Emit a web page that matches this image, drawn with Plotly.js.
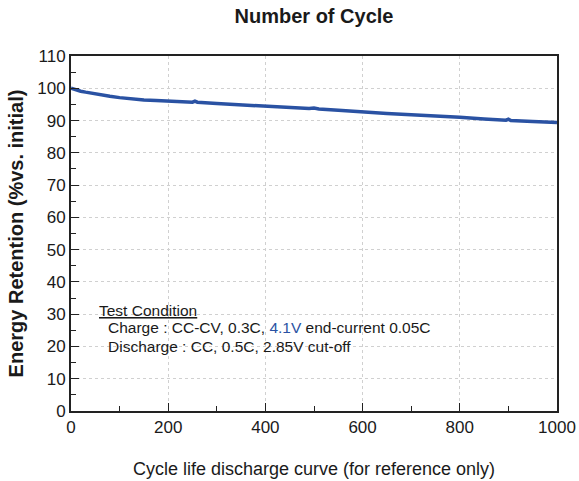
<!DOCTYPE html>
<html><head><meta charset="utf-8">
<script src="https://cdn.plot.ly/plotly-3.0.1.min.js"></script>
<style>html,body{margin:0;padding:0;background:#fff}#chart{width:579px;height:481px}</style>
</head><body><div id="chart"></div>
<script>
const cycles = [0,10,20,30,40,50,60,80,100,125,150,175,200,225,250,255,260,300,350,400,450,490,500,510,550,600,650,700,750,800,850,895,900,905,950,1000];
const retention = [100,99.5,99.1,98.8,98.5,98.2,97.9,97.5,97.1,96.7,96.4,96.2,96.0,95.8,95.7,96.0,95.7,95.3,94.9,94.5,94.1,93.7,93.9,93.6,93.2,92.6,92.2,91.8,91.5,91.0,90.5,90.1,90.4,90.0,89.7,89.4];
const xTicks = [0,200,400,600,800,1000];
const yTicks = [0,10,20,30,40,50,60,70,80,90,100,110];

const font = "Liberation Sans, Arial, sans-serif";
const trace = {x: cycles, y: retention, type: 'scatter', mode: 'lines',
  line: {color: '#2a52a3', width: 3.5}, hoverinfo: 'skip'};

const layout = {
  width: 579, height: 481,
  margin: {l: 71, r: 22, t: 56, b: 70},
  paper_bgcolor: '#fff', plot_bgcolor: '#fff',
  font: {family: font, color: '#1a1a1a', size: 17},
  showlegend: false,
  title: {text: '<b>Number of Cycle</b>', x: 0.5, xref: 'paper', xanchor: 'center',
    y: 0.966, yref: 'container', yanchor: 'middle', font: {size: 20, family: font, color: '#1a1a1a'}},
  xaxis: {range: [0, 1000], tickvals: xTicks, ticktext: xTicks.map(String),
    ticks: 'inside', ticklen: 8, tickwidth: 1, tickcolor: '#222',
    minor: {dtick: 100, ticks: 'inside', ticklen: 5, tickcolor: '#222', showgrid: false},
    showline: true, linewidth: 2, linecolor: '#222', mirror: true,
    showgrid: true, gridcolor: '#d0d0d0', griddash: 'dot', gridwidth: 1,
    zeroline: false, tickfont: {size: 17},
    title: {text: 'Cycle life discharge curve (for reference only)', standoff: 26, font: {size: 18}}},
  yaxis: {range: [0, 110], tickvals: yTicks, ticktext: yTicks.map(String),
    ticks: 'inside', ticklen: 8, tickwidth: 1, tickcolor: '#222',
    minor: {dtick: 5, ticks: 'inside', ticklen: 5, tickcolor: '#222', showgrid: false},
    showline: true, linewidth: 2, linecolor: '#222', mirror: true,
    showgrid: true, gridcolor: '#d0d0d0', griddash: 'dot', gridwidth: 1,
    zeroline: false, tickfont: {size: 17},
    title: {text: '<b>Energy Retention (%vs. initial)</b>', standoff: 8, font: {size: 20}}},
  annotations: [
    {xref: 'paper', yref: 'paper', x: 0.054, y: 0.284, xanchor: 'left', yanchor: 'middle', showarrow: false,
     text: '<u>Test Condition</u>', font: {size: 15.5, family: font, color: '#1a1a1a'}},
    {xref: 'paper', yref: 'paper', x: 0.073, y: 0.236, xanchor: 'left', yanchor: 'middle', showarrow: false,
     text: 'Charge : CC-CV, 0.3C, <span style="color:#2a52a3">4.1V</span> end-current 0.05C', font: {size: 15.5, family: font, color: '#1a1a1a'}},
    {xref: 'paper', yref: 'paper', x: 0.073, y: 0.182, xanchor: 'left', yanchor: 'middle', showarrow: false,
     text: 'Discharge : CC, 0.5C, 2.85V cut-off', font: {size: 15.5, family: font, color: '#1a1a1a'}}
  ]
};
Plotly.newPlot('chart', [trace], layout, {staticPlot: true, displayModeBar: false});
</script></body></html>
